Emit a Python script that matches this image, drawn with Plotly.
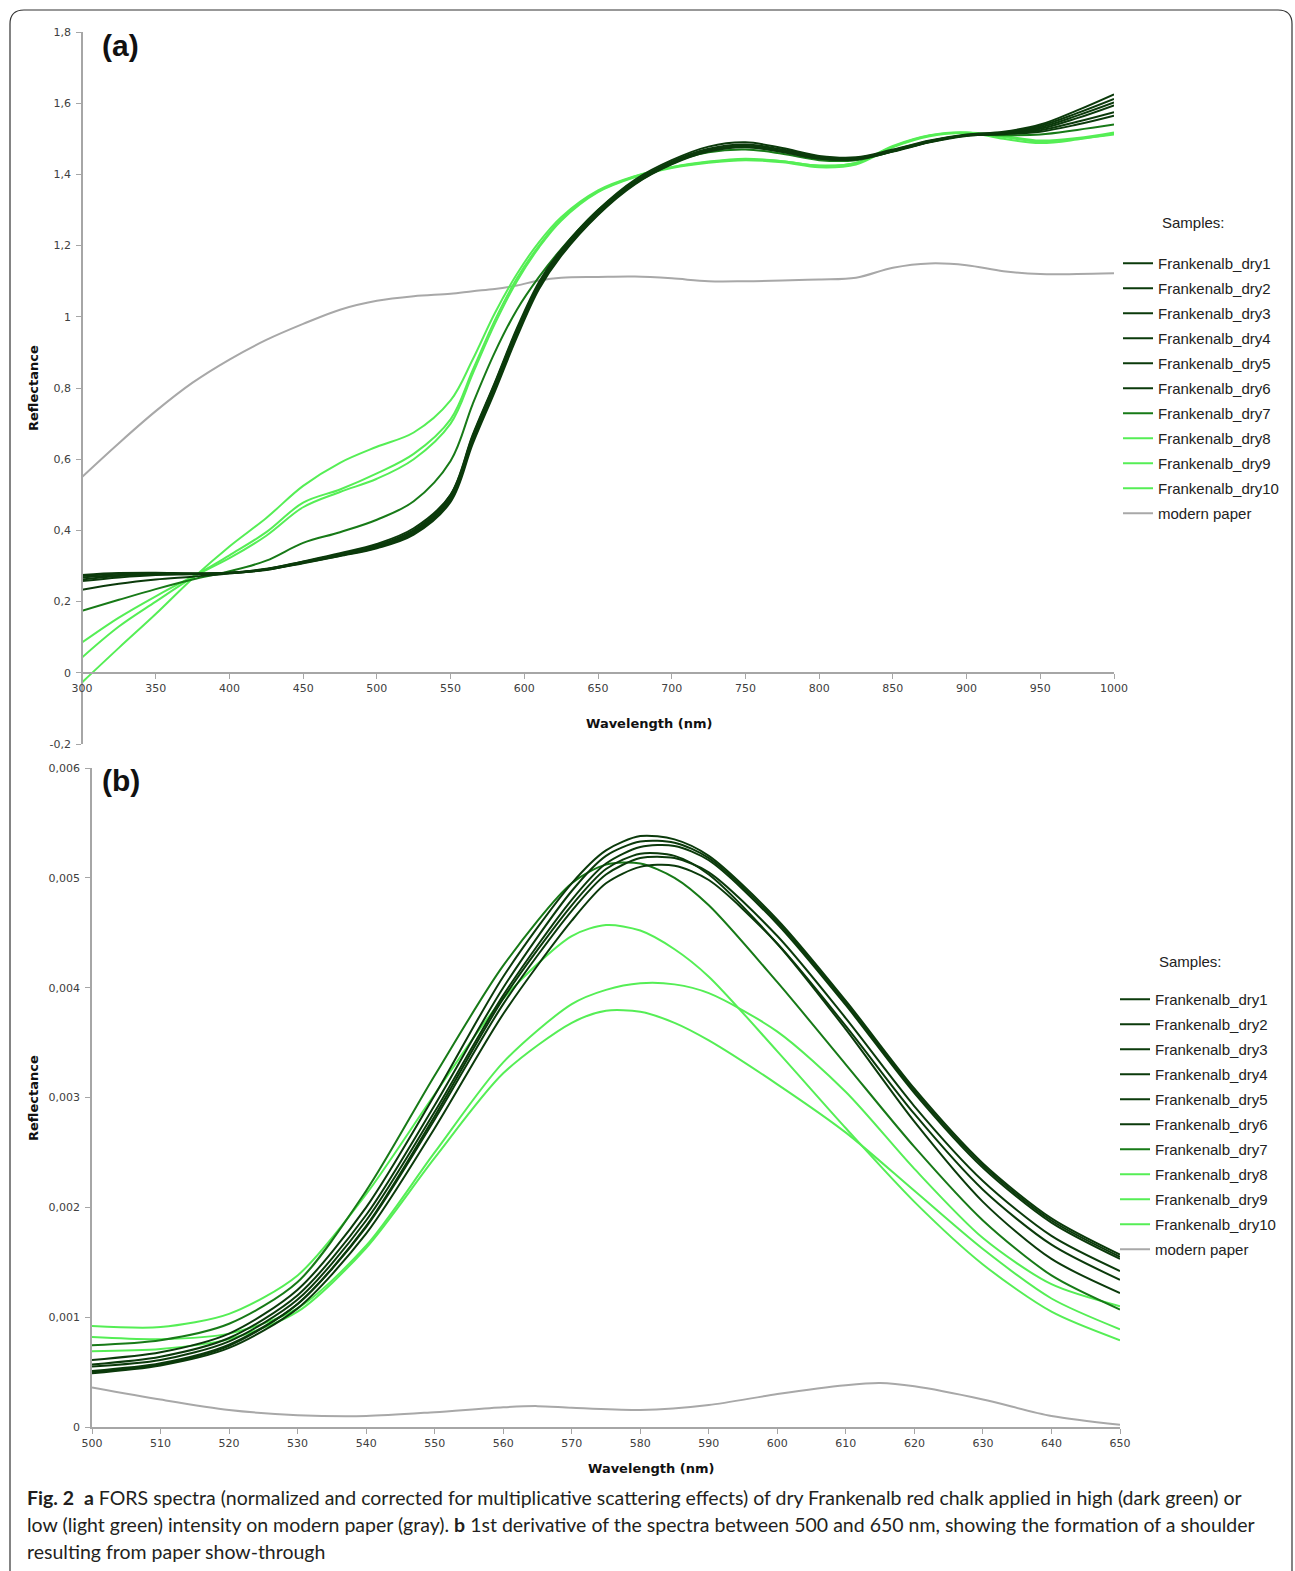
import plotly.graph_objects as go

# ---------------- data: panel (a) ----------------
X_A = [300, 325, 350, 375, 400, 425, 450, 475, 500, 525, 550, 565, 580, 595, 610, 625,
       650, 675, 700, 725, 750, 775, 800, 825, 850, 875, 900, 925, 950, 975, 1000]

A_DRY1 = [0.275, 0.280, 0.281, 0.279, 0.281, 0.292, 0.312, 0.333, 0.357, 0.398, 0.500, 0.668, 0.815, 0.968, 1.098, 1.188,
          1.300, 1.385, 1.440, 1.478, 1.490, 1.474, 1.452, 1.448, 1.470, 1.495, 1.512, 1.520, 1.540, 1.580, 1.625]
A_DRY2 = [0.272, 0.278, 0.280, 0.279, 0.281, 0.291, 0.310, 0.331, 0.354, 0.394, 0.493, 0.659, 0.806, 0.959, 1.091, 1.182,
          1.295, 1.380, 1.436, 1.472, 1.484, 1.470, 1.449, 1.446, 1.468, 1.494, 1.511, 1.518, 1.536, 1.572, 1.612]
A_DRY3 = [0.268, 0.275, 0.278, 0.278, 0.280, 0.290, 0.309, 0.329, 0.352, 0.391, 0.486, 0.650, 0.797, 0.950, 1.084, 1.176,
          1.290, 1.376, 1.432, 1.468, 1.480, 1.466, 1.446, 1.444, 1.466, 1.492, 1.510, 1.517, 1.532, 1.565, 1.602]
A_DRY4 = [0.262, 0.272, 0.277, 0.278, 0.280, 0.289, 0.308, 0.328, 0.350, 0.388, 0.480, 0.643, 0.790, 0.943, 1.078, 1.171,
          1.286, 1.372, 1.428, 1.464, 1.476, 1.463, 1.444, 1.442, 1.464, 1.490, 1.508, 1.515, 1.528, 1.558, 1.594]
A_DRY5 = [0.258, 0.268, 0.275, 0.277, 0.280, 0.290, 0.311, 0.333, 0.358, 0.401, 0.492, 0.655, 0.802, 0.953, 1.084, 1.174,
          1.288, 1.374, 1.430, 1.466, 1.478, 1.464, 1.445, 1.443, 1.465, 1.491, 1.509, 1.514, 1.524, 1.548, 1.575]
A_DRY6 = [0.233, 0.250, 0.262, 0.270, 0.279, 0.291, 0.313, 0.336, 0.362, 0.406, 0.500, 0.665, 0.812, 0.963, 1.091, 1.180,
          1.292, 1.376, 1.432, 1.468, 1.480, 1.466, 1.447, 1.444, 1.466, 1.492, 1.510, 1.513, 1.520, 1.540, 1.565]
A_DRY7 = [0.174, 0.205, 0.235, 0.262, 0.285, 0.315, 0.365, 0.395, 0.430, 0.482, 0.595, 0.755, 0.900, 1.020, 1.112, 1.190,
          1.300, 1.380, 1.432, 1.462, 1.470, 1.458, 1.440, 1.440, 1.465, 1.493, 1.510, 1.510, 1.512, 1.525, 1.540]
A_DRY8 = [-0.027, 0.070, 0.165, 0.265, 0.355, 0.435, 0.525, 0.590, 0.635, 0.675, 0.765, 0.880, 1.010, 1.120, 1.210, 1.280,
          1.355, 1.395, 1.420, 1.435, 1.442, 1.437, 1.425, 1.432, 1.480, 1.510, 1.518, 1.500, 1.488, 1.498, 1.515]
A_DRY9 = [0.085, 0.155, 0.215, 0.270, 0.322, 0.385, 0.465, 0.508, 0.545, 0.600, 0.700, 0.840, 0.980, 1.100, 1.195, 1.270,
          1.350, 1.392, 1.418, 1.433, 1.440, 1.434, 1.420, 1.428, 1.476, 1.507, 1.516, 1.505, 1.492, 1.500, 1.512]
A_DRY10 = [0.043, 0.130, 0.200, 0.268, 0.330, 0.395, 0.478, 0.515, 0.560, 0.615, 0.712, 0.850, 0.990, 1.108, 1.200, 1.275,
           1.352, 1.394, 1.420, 1.436, 1.444, 1.437, 1.424, 1.432, 1.478, 1.509, 1.518, 1.508, 1.495, 1.502, 1.518]
A_PAPER = [0.550, 0.645, 0.735, 0.815, 0.880, 0.935, 0.980, 1.020, 1.045, 1.058, 1.065, 1.072, 1.078, 1.088, 1.102, 1.110,
           1.112, 1.113, 1.108, 1.100, 1.100, 1.102, 1.105, 1.110, 1.138, 1.150, 1.145, 1.128, 1.120, 1.120, 1.122]

# ---------------- data: panel (b) ----------------
X_B = [500, 510, 520, 530, 540, 550, 560, 570, 575, 580, 585, 590, 600, 610, 620, 630, 640, 650]

B_DRY1 = [0.00061, 0.00068, 0.00085, 0.00125, 0.00200, 0.00302, 0.00410, 0.00495, 0.00525, 0.00538, 0.00535, 0.00520,
          0.00462, 0.00388, 0.00308, 0.00240, 0.00190, 0.00157]
B_DRY2 = [0.00057, 0.00064, 0.00081, 0.00120, 0.00193, 0.00293, 0.00400, 0.00488, 0.00520, 0.00533, 0.00532, 0.00518,
          0.00460, 0.00386, 0.00306, 0.00238, 0.00188, 0.00155]
B_DRY3 = [0.00055, 0.00061, 0.00078, 0.00116, 0.00188, 0.00287, 0.00393, 0.00480, 0.00513, 0.00528, 0.00529, 0.00516,
          0.00458, 0.00384, 0.00304, 0.00236, 0.00186, 0.00153]
B_DRY4 = [0.00051, 0.00058, 0.00075, 0.00112, 0.00182, 0.00280, 0.00385, 0.00470, 0.00503, 0.00518, 0.00518, 0.00505,
          0.00447, 0.00372, 0.00292, 0.00224, 0.00174, 0.00142]
B_DRY5 = [0.00049, 0.00056, 0.00072, 0.00108, 0.00176, 0.00272, 0.00376, 0.00461, 0.00495, 0.00510, 0.00511, 0.00498,
          0.00440, 0.00365, 0.00285, 0.00216, 0.00166, 0.00134]
B_DRY6 = [0.00050, 0.00057, 0.00074, 0.00112, 0.00183, 0.00283, 0.00390, 0.00475, 0.00508, 0.00522, 0.00520, 0.00503,
          0.00440, 0.00362, 0.00278, 0.00205, 0.00153, 0.00122]
B_DRY7 = [0.000745, 0.00079, 0.00094, 0.00132, 0.00215, 0.00320, 0.00420, 0.00495, 0.00512, 0.00513, 0.00500, 0.00475,
          0.00405, 0.00330, 0.00255, 0.00188, 0.00138, 0.00107]
B_DRY8 = [0.00092, 0.00091, 0.00103, 0.00138, 0.00212, 0.00303, 0.00390, 0.00447, 0.00457, 0.00452, 0.00435, 0.00410,
          0.00342, 0.00272, 0.00205, 0.00148, 0.00105, 0.00079]
B_DRY9 = [0.00082, 0.00080, 0.00085, 0.00108, 0.00165, 0.00250, 0.00332, 0.00385, 0.00398, 0.00404, 0.00403, 0.00395,
          0.00360, 0.00305, 0.00235, 0.00172, 0.00130, 0.00110]
B_DRY10 = [0.00069, 0.00071, 0.00080, 0.00105, 0.00163, 0.00245, 0.00322, 0.00368, 0.00379, 0.00378, 0.00368, 0.00352,
           0.00312, 0.00268, 0.00215, 0.00162, 0.00117, 0.00089]
X_B_PAPER = [500, 510, 520, 530, 540, 550, 560, 565, 570, 580, 590, 600, 610, 615, 620, 630, 640, 650]
B_PAPER = [0.00036, 0.00025, 0.000155, 0.000108, 0.00010, 0.000135, 0.00018, 0.00019, 0.000175, 0.000155, 0.00020,
           0.00030, 0.00038, 0.00040, 0.00037, 0.00025, 0.00010, 0.00002]

SERIES_NAMES = ["Frankenalb_dry1", "Frankenalb_dry2", "Frankenalb_dry3", "Frankenalb_dry4", "Frankenalb_dry5",
                "Frankenalb_dry6", "Frankenalb_dry7", "Frankenalb_dry8", "Frankenalb_dry9", "Frankenalb_dry10",
                "modern paper"]

A_TICKS_Y = [-0.2, 0, 0.2, 0.4, 0.6, 0.8, 1.0, 1.2, 1.4, 1.6, 1.8]
A_TICKTEXT_Y = ["-0,2", "0", "0,2", "0,4", "0,6", "0,8", "1", "1,2", "1,4", "1,6", "1,8"]
A_TICKS_X = [300, 350, 400, 450, 500, 550, 600, 650, 700, 750, 800, 850, 900, 950, 1000]
B_TICKS_Y = [0, 0.001, 0.002, 0.003, 0.004, 0.005, 0.006]
B_TICKTEXT_Y = ["0", "0,001", "0,002", "0,003", "0,004", "0,005", "0,006"]
B_TICKS_X = [500, 510, 520, 530, 540, 550, 560, 570, 580, 590, 600, 610, 620, 630, 640, 650]

# ---------------- styling ----------------
DARK = "#0b3a0b"
MID = "#177a17"
LIGHT = "#55ee55"
GRAY = "#a8a8a8"
COLORS = [DARK, DARK, DARK, DARK, DARK, DARK, MID, LIGHT, LIGHT, LIGHT, GRAY]

W, H = 1295, 1571


def fx(x):
    return x / W


def fy(y):
    return 1 - y / H


fig = go.Figure()

A_SERIES = [A_DRY1, A_DRY2, A_DRY3, A_DRY4, A_DRY5, A_DRY6, A_DRY7, A_DRY8, A_DRY9, A_DRY10, A_PAPER]
B_SERIES = [B_DRY1, B_DRY2, B_DRY3, B_DRY4, B_DRY5, B_DRY6, B_DRY7, B_DRY8, B_DRY9, B_DRY10, B_PAPER]

# draw paper first (behind), keep legend order via legendrank
order = [10, 9, 8, 7, 6, 5, 4, 3, 2, 1, 0]
for i in order:
    fig.add_trace(go.Scatter(
        x=X_A, y=A_SERIES[i], mode="lines", name=SERIES_NAMES[i],
        line=dict(color=COLORS[i], width=2, shape="spline", smoothing=1.0),
        xaxis="x", yaxis="y", legend="legend", legendgroup="a%d" % i,
        legendrank=i + 1,
    ))
for i in order:
    xb = X_B_PAPER if i == 10 else X_B
    fig.add_trace(go.Scatter(
        x=xb, y=B_SERIES[i], mode="lines", name=SERIES_NAMES[i],
        line=dict(color=COLORS[i], width=2, shape="spline", smoothing=0.8),
        xaxis="x2", yaxis="y2", legend="legend2", legendgroup="b%d" % i,
        legendrank=i + 1,
    ))

AX_COLOR = "#a6a6a6"
TICK_FONT = dict(family="DejaVu Sans, Verdana, sans-serif", size=11, color="#404040")
LEG_FONT = dict(family="Liberation Sans, Arial, sans-serif", size=15, color="#222222")

common_axis = dict(showgrid=False, zeroline=False, showline=True, linecolor=AX_COLOR, linewidth=1.5,
                   ticks="outside", ticklen=5, tickwidth=1, tickcolor=AX_COLOR, tickfont=TICK_FONT)

fig.update_layout(
    width=W, height=H,
    margin=dict(l=0, r=0, t=0, b=0, pad=0, autoexpand=False),
    paper_bgcolor="white", plot_bgcolor="white",
    showlegend=True,
    xaxis=dict(domain=[fx(82), fx(1114)], range=[300, 1000], anchor="free", position=fy(673),
               tickvals=A_TICKS_X, **common_axis),
    yaxis=dict(domain=[fy(744), fy(32)], range=[-0.2, 1.8], anchor="free", position=fx(82),
               tickvals=A_TICKS_Y, ticktext=A_TICKTEXT_Y, ticklabelstandoff=3, **common_axis),
    xaxis2=dict(domain=[fx(92), fx(1120)], range=[500, 650], anchor="y2",
                tickvals=B_TICKS_X, **common_axis),
    yaxis2=dict(domain=[fy(1427), fy(768)], range=[0, 0.006], anchor="x2",
                tickvals=B_TICKS_Y, ticktext=B_TICKTEXT_Y, ticklabelstandoff=3, **common_axis),
    legend=dict(x=fx(1118), y=fy(247), xanchor="left", yanchor="top", font=LEG_FONT,
                tracegroupgap=2.5, bgcolor="rgba(0,0,0,0)", traceorder="grouped"),
    legend2=dict(x=fx(1115), y=fy(983), xanchor="left", yanchor="top", font=LEG_FONT,
                 tracegroupgap=2.5, bgcolor="rgba(0,0,0,0)", traceorder="grouped"),
)

TITLE_FONT = dict(family="DejaVu Sans, Verdana, sans-serif", size=13, color="#111111")
ann = []
ann.append(dict(text="<b>(a)</b>", x=fx(100), y=fy(45), xanchor="left", yanchor="middle",
                font=dict(family="Liberation Sans, Arial", size=30, color="#111")))
ann.append(dict(text="<b>(b)</b>", x=fx(100), y=fy(781), xanchor="left", yanchor="middle",
                font=dict(family="Liberation Sans, Arial", size=30, color="#111")))
ann.append(dict(text="<b>Wavelength (nm)</b>", x=fx(649), y=fy(723), xanchor="center", yanchor="middle",
                font=TITLE_FONT))
ann.append(dict(text="<b>Wavelength (nm)</b>", x=fx(651), y=fy(1468), xanchor="center", yanchor="middle",
                font=TITLE_FONT))
ann.append(dict(text="<b>Reflectance</b>", x=fx(33), y=fy(388), xanchor="center", yanchor="middle",
                textangle=-90, font=TITLE_FONT))
ann.append(dict(text="<b>Reflectance</b>", x=fx(33), y=fy(1098), xanchor="center", yanchor="middle",
                textangle=-90, font=TITLE_FONT))
ann.append(dict(text="Samples:", x=fx(1193), y=fy(223), xanchor="center", yanchor="middle", font=LEG_FONT))
ann.append(dict(text="Samples:", x=fx(1190), y=fy(961), xanchor="center", yanchor="middle", font=LEG_FONT))

CAP_FONT = dict(family="Lato, Open Sans, sans-serif", size=19.5, color="#231f20")
CAPTION = [
    "<b>Fig. 2</b>  <b>a</b> FORS spectra (normalized and corrected for multiplicative scattering effects) of dry Frankenalb red chalk applied in high (dark green) or",
    "low (light green) intensity on modern paper (gray). <b>b</b> 1st derivative of the spectra between 500 and 650 nm, showing the formation of a shoulder",
    "resulting from paper show-through",
]
for k, line in enumerate(CAPTION):
    ann.append(dict(text=line, x=fx(25), y=fy(1497 + 27 * k), xanchor="left", yanchor="middle", font=CAP_FONT))

for a in ann:
    a.update(xref="paper", yref="paper", showarrow=False)
fig.update_layout(annotations=ann)

# rounded frame
x0, x1 = fx(10), fx(1292)
yt, yb = fy(10), fy(1575)
rx, ry = 14 / W, 14 / H
path = (f"M {x0},{yb} L {x0},{yt - ry} Q {x0},{yt} {x0 + rx},{yt} "
        f"L {x1 - rx},{yt} Q {x1},{yt} {x1},{yt - ry} L {x1},{yb}")
fig.add_shape(type="path", path=path, xref="paper", yref="paper",
              line=dict(color="#333333", width=1.2), layer="above")

fig.write_html(
    "out.html",
    post_script="document.body.style.margin='0px';document.documentElement.style.overflow='hidden';",
)
